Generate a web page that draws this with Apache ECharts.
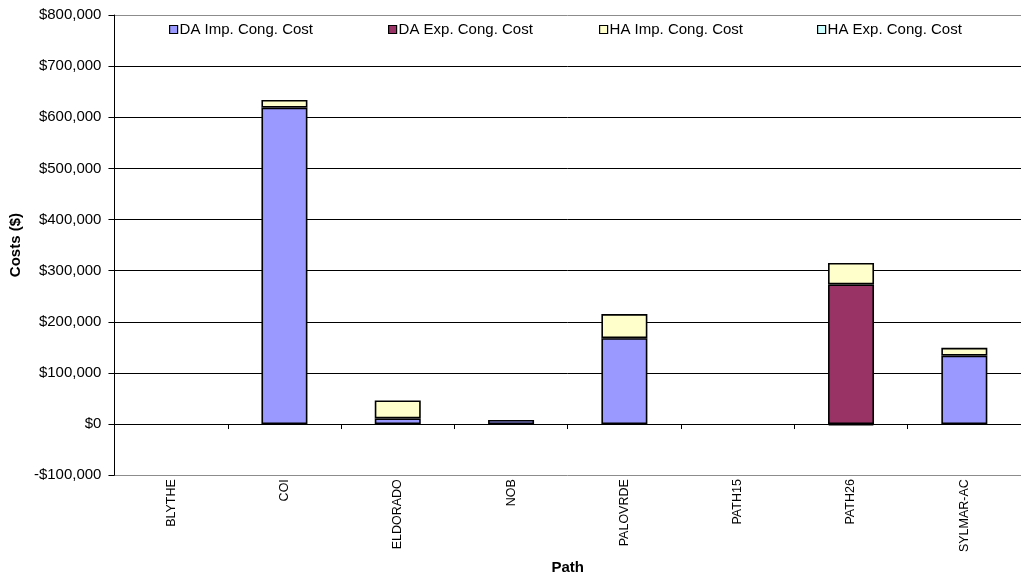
<!DOCTYPE html>
<html>
<head>
<meta charset="utf-8">
<script src="https://cdn.jsdelivr.net/npm/echarts@6/dist/echarts.min.js"></script>
<style>
  html, body { margin: 0; padding: 0; background: #fff; }
  #chart { width: 1021px; height: 580px; }
</style>
</head>
<body>
<div id="chart"></div>
<script>
// Congestion costs by path, stacked by market and direction
const paths = ['BLYTHE', 'COI', 'ELDORADO', 'NOB', 'PALOVRDE', 'PATH15', 'PATH26', 'SYLMAR-AC'];
const daImport = [0, 619000, 11000, 8000, 168000, 0, 0, 134000];
const daExport = [0, 0, 0, 0, 0, 0, 273000, 0];
const haImport = [0, 15000, 35000, 0, 47000, 0, 42000, 15000];
const haExport = [0, 0, 0, 0, 0, 0, -2500, 0];
const yTicks = { min: -100000, max: 800000, step: 100000 };

const seriesDefs = [
  { name: 'DA Imp. Cong. Cost', values: daImport, color: '#9999FF', legendX: 169 },
  { name: 'DA Exp. Cong. Cost', values: daExport, color: '#993366', legendX: 388 },
  { name: 'HA Imp. Cong. Cost', values: haImport, color: '#FFFFCC', legendX: 599 },
  { name: 'HA Exp. Cong. Cost', values: haExport, color: '#CCFFFF', legendX: 817 }
];

const FONT = '"Liberation Sans", Arial, sans-serif';
const gridLeft = 113, gridTop = 15, gridWidth = 915, gridHeight = 464;

function money(v) {
  const s = '$' + Math.abs(v).toLocaleString('en-US');
  return v < 0 ? '-' + s : s;
}

// one gridline per tick; the outermost ones double as the grey plot border
const nLines = Math.round((yTicks.max - yTicks.min) / yTicks.step) + 1;
const lineColors = [];
for (let i = 0; i < nLines; i++) lineColors.push(i === 0 || i === nLines - 1 ? '#8c8c8c' : '#000000');

const chart = echarts.init(document.getElementById('chart'), null, { renderer: 'canvas' });

chart.setOption({
  animation: false,
  backgroundColor: '#ffffff',
  textStyle: { fontFamily: FONT },
  legend: seriesDefs.map(d => ({
    data: [d.name],
    left: d.legendX,
    top: 22,
    padding: 0,
    itemWidth: 8,
    itemHeight: 8,
    itemGap: 0,
    icon: 'rect',
    selectedMode: false,
    itemStyle: { borderColor: '#000', borderWidth: 1.2 },
    textStyle: { fontFamily: FONT, fontSize: 15, color: '#000', padding: [0, 0, 0, -3], lineHeight: 15 }
  })),
  grid: { left: gridLeft, top: gridTop, width: gridWidth, height: gridHeight, containLabel: false },
  xAxis: [
    {
      type: 'category',
      data: paths,
      position: 'bottom',
      axisLine: { onZero: true, lineStyle: { color: '#000', width: 1 } },
      axisTick: { show: true, length: 5, lineStyle: { color: '#000' } },
      axisLabel: { show: false },
      splitLine: { show: false }
    },
    {
      type: 'category',
      data: paths,
      position: 'bottom',
      axisLine: { show: false, onZero: false },
      axisTick: { show: false },
      axisLabel: { rotate: 90, margin: 4, fontSize: 12.5, color: '#000', fontFamily: FONT },
      name: 'Path',
      nameLocation: 'middle',
      nameGap: 80,
      nameTextStyle: { fontSize: 15, fontWeight: 'bold', color: '#000', fontFamily: FONT }
    }
  ],
  yAxis: {
    type: 'value',
    min: yTicks.min,
    max: yTicks.max,
    interval: yTicks.step,
    axisLine: { show: true, lineStyle: { color: '#000', width: 1 } },
    axisTick: { show: true, length: 6, lineStyle: { color: '#000' } },
    axisLabel: { formatter: money, margin: 13, fontSize: 15, color: '#000', fontFamily: FONT },
    splitLine: { show: true, lineStyle: { color: lineColors, width: 1 } },
    name: 'Costs ($)',
    nameLocation: 'middle',
    nameGap: 86,
    nameTextStyle: { fontSize: 15, fontWeight: 'bold', color: '#000', fontFamily: FONT }
  },
  series: seriesDefs.map(d => ({
    name: d.name,
    type: 'bar',
    stack: 'total',
    xAxisIndex: 0,
    barWidth: 46,
    data: d.values.map(v => (v === 0 ? '-' : v)),
    itemStyle: { color: d.color, borderColor: '#000', borderWidth: 1.6 },
    emphasis: { disabled: true }
  }))
});
</script>
</body>
</html>
